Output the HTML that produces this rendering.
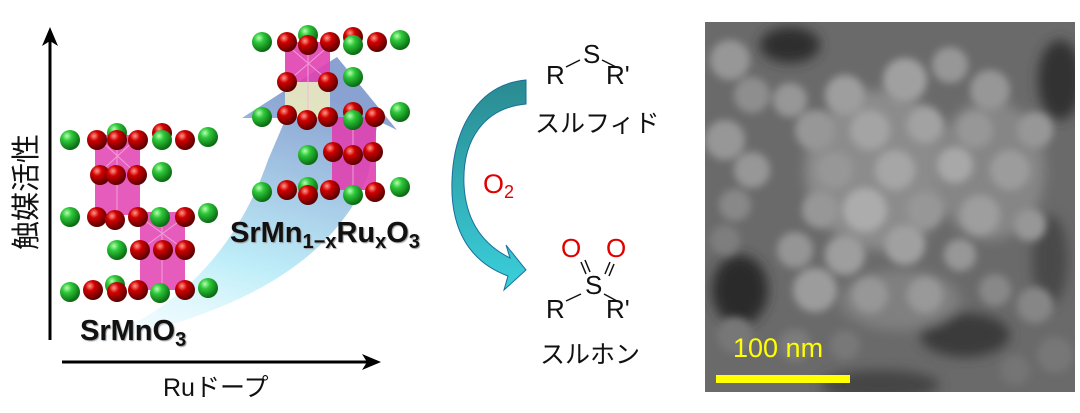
<!DOCTYPE html>
<html><head><meta charset="utf-8"><style>
html,body{margin:0;padding:0;background:#fff;}
svg{display:block;}
</style></head><body>
<svg width="1080" height="413" viewBox="0 0 1080 413" xmlns="http://www.w3.org/2000/svg">
<defs>
<radialGradient id="g" cx="0.35" cy="0.3" r="0.7"><stop offset="0" stop-color="#b8ffb0"/><stop offset="0.35" stop-color="#2ec83a"/><stop offset="1" stop-color="#0a6a12"/></radialGradient>
<radialGradient id="r" cx="0.35" cy="0.3" r="0.7"><stop offset="0" stop-color="#ff9a8a"/><stop offset="0.35" stop-color="#d00000"/><stop offset="1" stop-color="#5a0000"/></radialGradient>
<linearGradient id="ba" x1="0" y1="1" x2="0.3" y2="0"><stop offset="0" stop-color="#e8fbff" stop-opacity="0.2"/><stop offset="0.4" stop-color="#b8ecf8"/><stop offset="1" stop-color="#7d98cc"/></linearGradient>
<linearGradient id="ca" x1="0" y1="0" x2="0" y2="1"><stop offset="0" stop-color="#2a8a90"/><stop offset="1" stop-color="#3ad0dc"/></linearGradient>
<filter id="bl" x="-10%" y="-10%" width="120%" height="120%"><feGaussianBlur stdDeviation="6"/></filter>
<filter id="bl2" x="-10%" y="-10%" width="120%" height="120%"><feGaussianBlur stdDeviation="4"/></filter>
<clipPath id="sc"><rect x="705" y="22" width="370" height="370"/></clipPath>
</defs>

<path d="M70,346 C150,330 230,270 268,160 L286,118 L242,118 L337,57 L397,130 L378,121 L368,175 C340,250 250,320 70,346 Z" fill="url(#ba)" opacity="0.9"/>

<line x1="50" y1="340" x2="50" y2="40" stroke="#000" stroke-width="3"/>
<polygon points="50,27 42,46 50,41 58,46" fill="#000"/>
<line x1="62" y1="362" x2="368" y2="362" stroke="#000" stroke-width="3"/>
<polygon points="381,362 362,354 367,362 362,370" fill="#000"/>
<text transform="translate(36,192) rotate(-90)" text-anchor="middle" font-family="Liberation Sans, Noto Sans CJK JP, sans-serif" font-size="29" fill="#111">触媒活性</text>
<text x="163" y="396" font-family="Liberation Sans, Noto Sans CJK JP, sans-serif" font-size="25" fill="#111">Ruドープ</text>

<rect x="95" y="135" width="45" height="80" fill="#e040b0" opacity="0.85"/>
<rect x="140" y="212" width="45" height="78" fill="#e040b0" opacity="0.85"/>
<g stroke="#f4b0e0" stroke-width="1" opacity="0.8"><line x1="117" y1="140" x2="117" y2="215"/><line x1="162" y1="215" x2="162" y2="290"/><line x1="97" y1="137" x2="138" y2="175"/><line x1="138" y1="137" x2="97" y2="175"/><line x1="140" y1="217" x2="185" y2="250"/><line x1="185" y1="217" x2="140" y2="250"/></g>
<g>
<circle cx="117" cy="133" r="10" fill="url(#g)"/><circle cx="162" cy="133" r="10" fill="url(#r)"/>
<circle cx="70" cy="140" r="10" fill="url(#g)"/><circle cx="97" cy="140" r="10" fill="url(#r)"/><circle cx="117" cy="140" r="10" fill="url(#r)"/><circle cx="138" cy="140" r="10" fill="url(#r)"/><circle cx="162" cy="140" r="10" fill="url(#g)"/><circle cx="185" cy="140" r="10" fill="url(#r)"/><circle cx="208" cy="137" r="10" fill="url(#g)"/>
<circle cx="100" cy="175" r="10" fill="url(#r)"/><circle cx="116" cy="175" r="10" fill="url(#r)"/><circle cx="137" cy="175" r="10" fill="url(#r)"/><circle cx="162" cy="172" r="10" fill="url(#g)"/>
<circle cx="70" cy="217" r="10" fill="url(#g)"/><circle cx="97" cy="217" r="10" fill="url(#r)"/><circle cx="115" cy="220" r="10" fill="url(#r)"/><circle cx="138" cy="217" r="10" fill="url(#r)"/><circle cx="160" cy="217" r="10" fill="url(#g)"/><circle cx="185" cy="217" r="10" fill="url(#r)"/><circle cx="208" cy="213" r="10" fill="url(#g)"/>
<circle cx="117" cy="250" r="10" fill="url(#g)"/><circle cx="140" cy="250" r="10" fill="url(#r)"/><circle cx="163" cy="250" r="10" fill="url(#r)"/><circle cx="185" cy="250" r="10" fill="url(#r)"/>
<circle cx="115" cy="285" r="10" fill="url(#g)"/>
<circle cx="70" cy="292" r="10" fill="url(#g)"/><circle cx="93" cy="290" r="10" fill="url(#r)"/><circle cx="117" cy="292" r="10" fill="url(#r)"/><circle cx="138" cy="290" r="10" fill="url(#r)"/><circle cx="160" cy="293" r="10" fill="url(#g)"/><circle cx="185" cy="290" r="10" fill="url(#r)"/><circle cx="208" cy="288" r="10" fill="url(#g)"/>
</g>

<rect x="285" y="42" width="45" height="40" fill="#e040b0" opacity="0.9"/>
<rect x="285" y="82" width="45" height="35" fill="#e6e6c0" opacity="0.95"/>
<rect x="332" y="117" width="44" height="73" fill="#e040b0" opacity="0.9"/>
<g stroke="#f4b0e0" stroke-width="1" opacity="0.8"><line x1="308" y1="45" x2="308" y2="117"/><line x1="353" y1="117" x2="353" y2="190"/><line x1="287" y1="45" x2="330" y2="82"/><line x1="330" y1="45" x2="287" y2="82"/></g>
<g>
<circle cx="308" cy="35" r="10" fill="url(#g)"/><circle cx="353" cy="37" r="10" fill="url(#r)"/>
<circle cx="262" cy="42" r="10" fill="url(#g)"/><circle cx="287" cy="42" r="10" fill="url(#r)"/><circle cx="308" cy="45" r="10" fill="url(#r)"/><circle cx="330" cy="42" r="10" fill="url(#r)"/><circle cx="353" cy="45" r="10" fill="url(#g)"/><circle cx="377" cy="42" r="10" fill="url(#r)"/><circle cx="400" cy="40" r="10" fill="url(#g)"/>
<circle cx="287" cy="82" r="10" fill="url(#r)"/><circle cx="328" cy="82" r="10" fill="url(#r)"/><circle cx="353" cy="77" r="10" fill="url(#g)"/>
<circle cx="262" cy="117" r="10" fill="url(#g)"/><circle cx="287" cy="115" r="10" fill="url(#r)"/><circle cx="307" cy="120" r="10" fill="url(#r)"/><circle cx="328" cy="117" r="10" fill="url(#r)"/><circle cx="353" cy="112" r="10" fill="url(#r)"/><circle cx="353" cy="120" r="10" fill="url(#g)"/><circle cx="375" cy="117" r="10" fill="url(#r)"/><circle cx="400" cy="112" r="10" fill="url(#g)"/>
<circle cx="308" cy="155" r="10" fill="url(#g)"/><circle cx="333" cy="152" r="10" fill="url(#r)"/><circle cx="353" cy="155" r="10" fill="url(#r)"/><circle cx="373" cy="152" r="10" fill="url(#r)"/>
<circle cx="308" cy="187" r="10" fill="url(#g)"/>
<circle cx="262" cy="192" r="10" fill="url(#g)"/><circle cx="287" cy="190" r="10" fill="url(#r)"/><circle cx="308" cy="195" r="10" fill="url(#r)"/><circle cx="330" cy="190" r="10" fill="url(#r)"/><circle cx="353" cy="195" r="10" fill="url(#g)"/><circle cx="375" cy="192" r="10" fill="url(#r)"/><circle cx="400" cy="187" r="10" fill="url(#g)"/>
</g>

<g font-family="Liberation Sans, sans-serif" font-weight="bold" fill="#111" style="text-shadow:1px 1px 1px #999">
<text x="80" y="340" font-size="29">SrMnO<tspan font-size="20" dy="6">3</tspan></text>
<text x="230" y="242" font-size="29">SrMn<tspan font-size="20" dy="6">1−x</tspan><tspan dy="-6">Ru</tspan><tspan font-size="20" dy="6">x</tspan><tspan dy="-6">O</tspan><tspan font-size="20" dy="6">3</tspan></text>
</g>

<path d="M526,80 L526,104 C484,108 462,140 464,185 C466,222 484,245 510,258 L506,245 L526,270 L504,290 L508,276 C470,262 450,230 452,180 C454,125 480,84 526,80 Z" fill="url(#ca)" stroke="#1a6e9a" stroke-width="1"/>
<text x="483" y="193" font-family="Liberation Sans, sans-serif" font-size="27" fill="#e00000">O<tspan font-size="18" dy="5">2</tspan></text>
<g font-family="Liberation Sans, sans-serif" font-size="26" fill="#111">
<text x="546" y="84">R</text><text x="583" y="63">S</text><text x="606" y="84">R'</text>
<text x="585" y="294">S</text><text x="546" y="318">R</text><text x="606" y="318">R'</text>
</g>
<g stroke="#111" stroke-width="1.5"><line x1="566" y1="67" x2="580" y2="60"/><line x1="602" y1="60" x2="616" y2="67"/>
<line x1="566" y1="301" x2="581" y2="294"/><line x1="604" y1="294" x2="617" y2="301"/>
<line x1="581" y1="262" x2="586" y2="274"/><line x1="585" y1="260" x2="590" y2="272"/>
<line x1="610" y1="262" x2="605" y2="274"/><line x1="614" y1="264" x2="609" y2="276"/></g>
<g font-family="Liberation Sans, sans-serif" font-size="26" fill="#e00000"><text x="561" y="257">O</text><text x="606" y="257">O</text></g>
<g font-family="Liberation Sans, Noto Sans CJK JP, sans-serif" font-size="25" fill="#111">
<text x="535" y="132">スルフィド</text><text x="540" y="363">スルホン</text></g>

<g clip-path="url(#sc)">
<rect x="705" y="22" width="370" height="370" fill="#6a6a6a"/>
<g filter="url(#bl)">
<ellipse cx="790" cy="45" rx="30" ry="18" fill="#2e2e2e"/>
<ellipse cx="1060" cy="80" rx="22" ry="40" fill="#333"/>
<ellipse cx="740" cy="290" rx="28" ry="35" fill="#2a2a2a"/>
<ellipse cx="965" cy="335" rx="45" ry="22" fill="#3a3a3a"/>
<ellipse cx="880" cy="385" rx="60" ry="15" fill="#444"/>
<ellipse cx="1050" cy="260" rx="18" ry="45" fill="#4a4a4a"/>
<ellipse cx="880" cy="170" rx="75" ry="80" fill="#8c8c8c"/>
<ellipse cx="990" cy="170" rx="55" ry="70" fill="#868686"/>
<ellipse cx="900" cy="300" rx="60" ry="30" fill="#808080"/>
</g>
<g filter="url(#bl2)" fill="#979797">
<circle cx="730" cy="60" r="20"/><circle cx="752" cy="95" r="18" fill="#8e8e8e"/><circle cx="725" cy="140" r="20"/><circle cx="752" cy="170" r="18"/><circle cx="735" cy="205" r="16" fill="#888"/>
<circle cx="790" cy="100" r="17"/><circle cx="815" cy="130" r="20"/>
<circle cx="845" cy="95" r="20" fill="#9e9e9e"/><circle cx="905" cy="80" r="22" fill="#a0a0a0"/><circle cx="950" cy="65" r="18"/><circle cx="990" cy="90" r="20"/><circle cx="1035" cy="130" r="18"/>
<circle cx="870" cy="130" r="20" fill="#a4a4a4"/><circle cx="925" cy="125" r="18" fill="#a2a2a2"/><circle cx="975" cy="130" r="18"/>
<circle cx="835" cy="170" r="18"/><circle cx="895" cy="170" r="20" fill="#a6a6a6"/><circle cx="955" cy="165" r="18" fill="#a8a8a8"/><circle cx="1010" cy="170" r="20" fill="#9c9c9c"/>
<circle cx="820" cy="210" r="18"/><circle cx="865" cy="210" r="22" fill="#acacac"/><circle cx="925" cy="210" r="18"/><circle cx="980" cy="215" r="20" fill="#9e9e9e"/><circle cx="1030" cy="225" r="16"/>
<circle cx="795" cy="250" r="18" fill="#959595"/><circle cx="845" cy="255" r="20" fill="#9e9e9e"/><circle cx="905" cy="245" r="20" fill="#a0a0a0"/><circle cx="960" cy="255" r="16"/>
<circle cx="815" cy="290" r="22" fill="#9c9c9c"/><circle cx="870" cy="295" r="18"/><circle cx="925" cy="295" r="18" fill="#999"/><circle cx="1035" cy="305" r="18" fill="#868686"/>
<circle cx="995" cy="290" r="16" fill="#888"/><circle cx="1055" cy="355" r="18" fill="#777"/><circle cx="1015" cy="370" r="15" fill="#747474"/>
<circle cx="725" cy="240" r="15" fill="#7e7e7e"/><circle cx="735" cy="335" r="18" fill="#777"/><circle cx="795" cy="345" r="16" fill="#7c7c7c"/><circle cx="845" cy="345" r="15" fill="#787878"/>
</g>
<rect x="716" y="375" width="134" height="8" fill="#ffff00"/>
<text x="733" y="357" font-family="Liberation Sans, sans-serif" font-size="27" fill="#ffff00">100 nm</text>
</g>
</svg>
</body></html>
